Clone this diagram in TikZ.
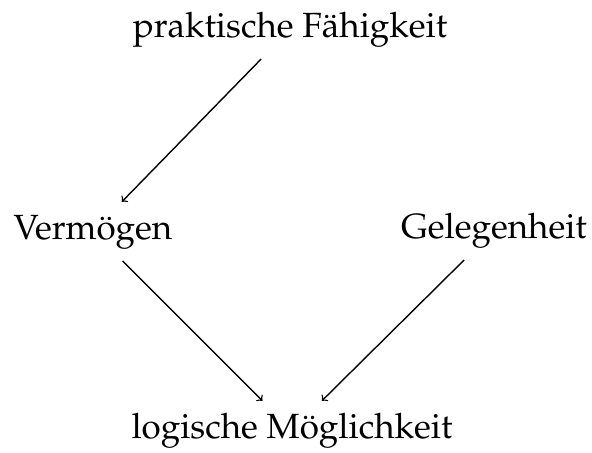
\documentclass[tikz,border=0pt]{standalone}
\usepackage[T1]{fontenc}
\usepackage{mathpazo}

\tikzset{
  begriff/.style={anchor=base, inner xsep=3pt, inner ysep=6pt,
    text height=12.4pt, text depth=4.8pt,
    font=\fontsize{17.5}{21}\selectfont},
  pfeil/.style={->, line width=0.7pt},
}

\begin{document}
\begin{tikzpicture}[x=0.5pt, y=-0.5pt]
    \useasboundingbox (0, 0) rectangle (592, 452);

    \node[begriff] (praktisch) at (290, 37) {praktische F\"ahigkeit};
    \node[begriff] (vermoegen) at (93, 239) {Verm\"ogen};
    \node[begriff] (gelegenheit) at (494, 238) {Gelegenheit};
    \node[begriff] (logisch) at (292, 438) {logische M\"oglichkeit};

    \draw[pfeil] (praktisch) -- (vermoegen);
    \draw[pfeil] (vermoegen) -- (logisch);
    \draw[pfeil] (gelegenheit) -- (logisch);
\end{tikzpicture}
\end{document}
